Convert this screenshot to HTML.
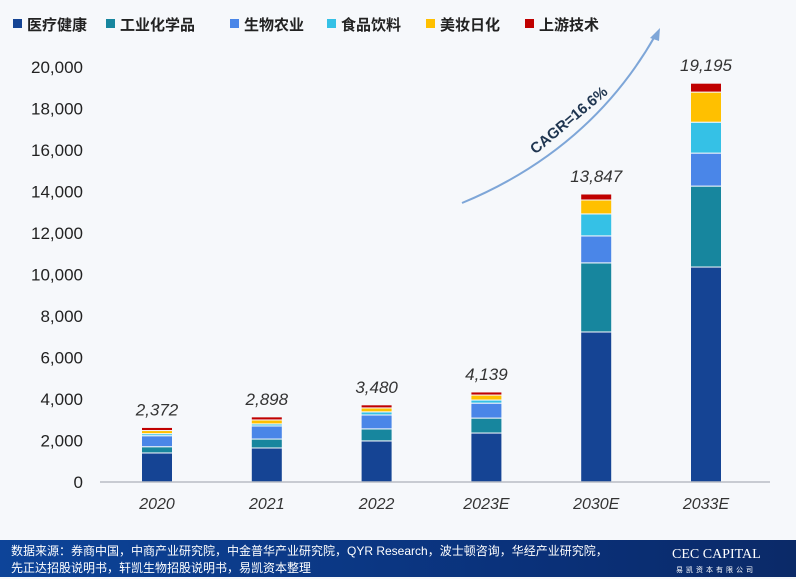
<!DOCTYPE html>
<html><head><meta charset="utf-8"><style>
body{margin:0;width:796px;height:577px;overflow:hidden;background:#f6f8fb;font-family:"Liberation Sans","Noto Sans CJK SC",sans-serif;}
#footer{position:absolute;left:0;top:540px;width:796px;height:37px;background:linear-gradient(90deg,#0d4499,#0a3078 70%,#0b2a68);color:#fff;font-size:12px;line-height:17px;}
</style></head><body>
<svg id="chart" width="796" height="540" style="position:absolute;left:0;top:0">
<g id="legend"></g>
<g id="yaxis"></g>
<g id="bars"></g>
<line x1="100" x2="770" y1="482" y2="482" stroke="#b8bcc4" stroke-width="1.5"/>
<g id="xaxis"></g>
<path d="M462,203 Q590,150 655,36" fill="none" stroke="#7ea6d8" stroke-width="2"/>
<polygon points="660,28 650,38 659,41" fill="#7ea6d8"/>
<text x="572" y="124" transform="rotate(-40 572 124)" text-anchor="middle" font-size="15" font-weight="bold" fill="#1f3550">CAGR=16.6%</text>
</svg>
<div id="footer">
<div style="position:absolute;left:11px;top:3px">数据来源：券商中国，中商产业研究院，中金普华产业研究院，QYR Research，波士顿咨询，华经产业研究院，<br>先正达招股说明书，轩凯生物招股说明书，易凯资本整理</div>
<div style="position:absolute;left:672px;top:6px;font-family:'Liberation Serif',serif;font-size:14px">CEC CAPITAL</div>
<div style="position:absolute;left:676px;top:22px;font-size:7px;letter-spacing:3px">易凯资本有限公司</div>
</div>
<script>
const categories=["2020","2021","2022","2023E","2030E","2033E"];
const totals=["2,372","2,898","3,480","4,139","13,847","19,195"];
const seriesNames=["医疗健康","工业化学品","生物农业","食品饮料","美妆日化","上游技术"];
const healthcare=[1400,1640,1980,2360,7230,10360];
const chemicals=[300,430,580,720,3330,3900];
const agriculture=[530,630,670,720,1300,1590];
const food=[100,100,150,150,1060,1490];
const cosmetics=[150,190,190,240,670,1450];
const upstream=[150,150,150,150,290,430];
const yTicks=[0,2000,4000,6000,8000,10000,12000,14000,16000,18000,20000];
const colors=["#154494","#17869e","#4a86e8","#35c1e6","#ffc000","#c00000"];
const series=[healthcare,chemicals,agriculture,food,cosmetics,upstream];
const NS="http://www.w3.org/2000/svg";
const y0=482,yTop=67,yMax=20000;
const yS=v=>y0-v*(y0-yTop)/yMax;
const xC=i=>157+i*109.8;
const bw=31;
function mk(t,a,p){const e=document.createElementNS(NS,t);for(const k in a)e.setAttribute(k,a[k]);p.appendChild(e);return e;}
const lg=document.getElementById('legend');
const lx=[13,106,230,327,426,525];
seriesNames.forEach((n,i)=>{
 const g=mk('g',{},lg);
 
 
 mk('rect',{x:lx[i],y:19,width:9,height:9,fill:colors[i]},g);
 const t=mk('text',{x:lx[i]+14,y:30,'font-size':15,'font-weight':600,fill:'#222'},g);t.textContent=n;
});
const ya=document.getElementById('yaxis');
yTicks.forEach(v=>{
 const t=mk('text',{x:83,y:yS(v)+6,'text-anchor':'end','font-size':17,fill:'#222'},ya);
 
 
 t.textContent=v.toLocaleString('en-US');
});
const bars=document.getElementById('bars'),xa=document.getElementById('xaxis');
categories.forEach((c,i)=>{
 let acc=0;
 series.forEach((s,j)=>{
  const top=yS(acc+s[i]),bot=yS(acc);
  const r=mk('rect',{x:xC(i)-bw/2,y:top,width:bw,height:Math.max(0,bot-top),fill:colors[j],stroke:'#f6f8fb','stroke-width':1},bars);
  
  
  acc+=s[i];
 });
 const tl=mk('text',{x:xC(i),y:yS(acc)-12,'text-anchor':'middle','font-size':17,'font-style':'italic',fill:'#333'},bars);
 
 
 tl.textContent=totals[i];
 const xl=mk('text',{x:xC(i),y:509,'text-anchor':'middle','font-size':16,'font-style':'italic',fill:'#333'},xa);
 
 
 xl.textContent=c;
});
</script>
</body></html>
